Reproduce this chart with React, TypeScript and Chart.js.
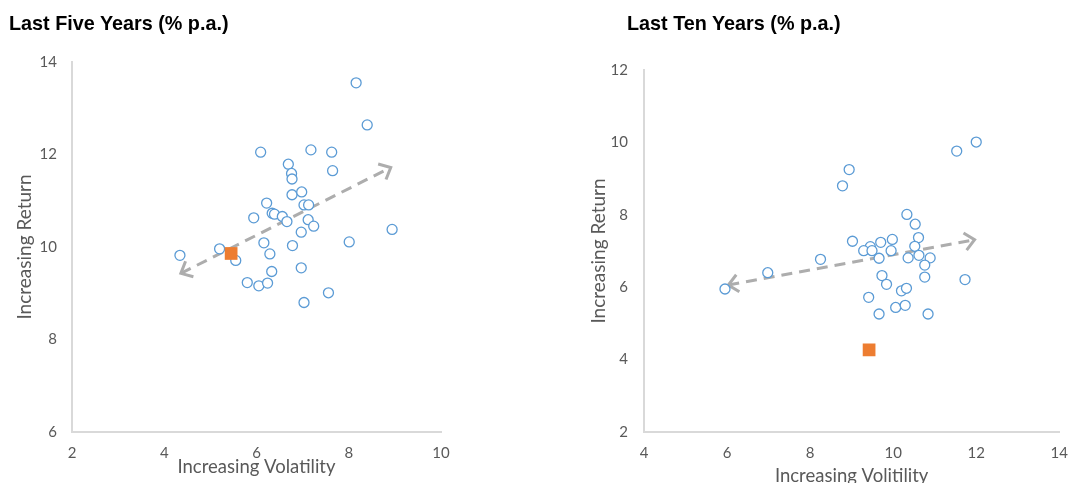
import React, { useEffect, useRef } from 'react';
import { Chart, registerables } from 'chart.js';

Chart.register(...registerables);

// ---- Last Five Years ----
const fiveYearVolatility = [8.16, 8.40, 6.09, 7.18, 7.63, 7.65, 6.69, 6.76, 6.77, 6.77, 6.98, 6.22, 7.03, 7.13, 5.94, 6.34, 6.39, 6.56, 6.66, 7.12, 7.24, 6.97, 8.94, 6.16, 6.78, 8.01, 5.20, 4.34, 6.29, 5.55, 6.33, 6.97, 5.80, 6.05, 6.24, 7.56, 7.03];
const fiveYearReturn = [13.55, 12.64, 12.05, 12.10, 12.05, 11.65, 11.79, 11.59, 11.47, 11.13, 11.19, 10.95, 10.91, 10.91, 10.63, 10.73, 10.71, 10.66, 10.55, 10.59, 10.45, 10.32, 10.38, 10.09, 10.03, 10.11, 9.96, 9.82, 9.85, 9.71, 9.47, 9.55, 9.23, 9.16, 9.22, 9.01, 8.80];
const fiveYearFundVolatility = [5.45];
const fiveYearFundReturn = [9.86];
const fiveYearArrowVolatility = [4.36, 8.91];
const fiveYearArrowReturn = [9.43, 11.72];

// ---- Last Ten Years ----
const tenYearVolatility = [12.00, 11.53, 8.94, 8.78, 10.33, 10.53, 10.61, 9.02, 9.98, 9.70, 10.52, 9.45, 9.29, 9.49, 9.95, 9.66, 10.36, 10.62, 10.89, 10.76, 8.25, 6.98, 5.95, 10.76, 11.73, 9.73, 9.84, 10.20, 10.32, 9.41, 10.06, 10.29, 9.66, 10.84];
const tenYearReturn = [10.01, 9.76, 9.25, 8.80, 8.01, 7.74, 7.37, 7.27, 7.32, 7.24, 7.13, 7.12, 7.01, 7.01, 7.01, 6.80, 6.81, 6.88, 6.81, 6.61, 6.77, 6.40, 5.95, 6.28, 6.21, 6.32, 6.08, 5.90, 5.97, 5.72, 5.44, 5.50, 5.26, 5.26];
const tenYearFundVolatility = [9.42];
const tenYearFundReturn = [4.27];
const tenYearArrowVolatility = [6.03, 11.96];
const tenYearArrowReturn = [6.06, 7.31];

const titleFive = 'Last Five Years (% p.a.)';
const titleTen = 'Last Ten Years (% p.a.)';
const xTitleFive = 'Increasing Volatility';
const xTitleTen = 'Increasing Volitility';
const yTitle = 'Increasing Return';

const BLUE = '#5b9bd5';
const ORANGE = '#ed7d31';
const ARROW = '#adadad';
const TEXT = '#595959';
const AXIS = '#d9d9d9';
const FONT = 'Lato';

const zip = (xs: number[], ys: number[]) => xs.map((x, i) => ({ x, y: ys[i] }));

const arrowHeads = {
  id: 'arrowHeads',
  afterDatasetDraw(chart: any, args: any) {
    const ds = chart.data.datasets[args.index];
    if (!ds || !ds.isArrow) return;
    const pts = args.meta.data;
    if (!pts || pts.length < 2) return;
    const ctx = chart.ctx;
    const L = 13;
    const A = (42 * Math.PI) / 180;
    const head = (tip: any, from: any) => {
      const ang = Math.atan2(tip.y - from.y, tip.x - from.x);
      ctx.save();
      ctx.strokeStyle = ARROW;
      ctx.lineWidth = 3;
      ctx.setLineDash([]);
      ctx.lineCap = 'butt';
      ctx.lineJoin = 'miter';
      ctx.beginPath();
      ctx.moveTo(tip.x - L * Math.cos(ang - A), tip.y - L * Math.sin(ang - A));
      ctx.lineTo(tip.x, tip.y);
      ctx.lineTo(tip.x - L * Math.cos(ang + A), tip.y - L * Math.sin(ang + A));
      ctx.stroke();
      ctx.restore();
    };
    head(pts[0], pts[pts.length - 1]);
    head(pts[pts.length - 1], pts[0]);
  },
};

interface Cfg {
  vol: number[];
  ret: number[];
  fundVol: number[];
  fundRet: number[];
  arrowVol: number[];
  arrowRet: number[];
  xMin: number;
  xMax: number;
  yMin: number;
  yMax: number;
  xTitle: string;
  padding: { top: number; right: number; bottom: number; left: number };
  yWidth: number;
  yTitlePad: number;
  yTickPad: number;
  xTitlePadBottom: number;
}

function build(canvas: HTMLCanvasElement, c: Cfg) {
  return new Chart(canvas, {
    type: 'scatter',
    data: {
      datasets: [
        {
          data: zip(c.fundVol, c.fundRet),
          pointStyle: 'rect',
          pointRadius: 9,
          pointHoverRadius: 9,
          backgroundColor: ORANGE,
          borderColor: ORANGE,
          borderWidth: 0,
          order: 0,
        },
        {
          data: zip(c.vol, c.ret),
          pointStyle: 'circle',
          pointRadius: 5,
          pointHoverRadius: 5,
          backgroundColor: '#ffffff',
          borderColor: BLUE,
          borderWidth: 1.3,
          order: 1,
        },
        {
          data: zip(c.arrowVol, c.arrowRet),
          showLine: true,
          pointRadius: 0,
          pointHoverRadius: 0,
          borderColor: ARROW,
          borderWidth: 3,
          borderDash: [11, 7],
          fill: false,
          order: 2,
          isArrow: true,
        } as any,
      ],
    },
    options: {
      responsive: false,
      animation: false,
      devicePixelRatio: 1,
      layout: { padding: c.padding },
      plugins: { legend: { display: false }, tooltip: { enabled: false }, title: { display: false } },
      scales: {
        x: {
          type: 'linear',
          position: 'bottom',
          min: c.xMin,
          max: c.xMax,
          ticks: { stepSize: 2, padding: 12, color: TEXT, font: { family: FONT, size: 15 } },
          grid: { display: false, drawTicks: false },
          border: { display: true, color: AXIS, width: 2 },
          title: {
            display: true,
            text: c.xTitle,
            color: TEXT,
            font: { family: FONT, size: 18.5 },
            padding: { top: 0, bottom: c.xTitlePadBottom },
          },
          afterFit: (s: any) => {
            s.height = 51;
          },
        },
        y: {
          type: 'linear',
          position: 'left',
          min: c.yMin,
          max: c.yMax,
          ticks: { stepSize: 2, padding: c.yTickPad, color: TEXT, font: { family: FONT, size: 15 } },
          grid: { display: false, drawTicks: false },
          border: { display: true, color: AXIS, width: 2 },
          title: {
            display: true,
            text: yTitle,
            color: TEXT,
            font: { family: FONT, size: 19 },
            padding: { top: c.yTitlePad, bottom: 0 },
          },
          afterFit: (s: any) => {
            s.width = c.yWidth;
          },
        },
      },
    } as any,
    plugins: [arrowHeads],
  });
}

function Panel(props: { cfg: Cfg; left: number; width: number; title: string; titleLeft: number }) {
  const ref = useRef<HTMLCanvasElement>(null);
  useEffect(() => {
    if (!ref.current) return;
    const ch = build(ref.current, props.cfg);
    return () => ch.destroy();
  }, []);
  return (
    <>
      <canvas
        ref={ref}
        width={props.width}
        height={483}
        style={{ position: 'absolute', left: props.left, top: 0, width: props.width, height: 483 }}
      />
      <div
        style={{
          position: 'absolute',
          left: props.titleLeft,
          top: 13,
          font: 'bold 19.8px "Liberation Sans", Arial, sans-serif',
          lineHeight: '20px',
          color: '#000',
          whiteSpace: 'nowrap',
        }}
      >
        {props.title}
      </div>
    </>
  );
}

export default function App() {
  const five: Cfg = {
    vol: fiveYearVolatility,
    ret: fiveYearReturn,
    fundVol: fiveYearFundVolatility,
    fundRet: fiveYearFundReturn,
    arrowVol: fiveYearArrowVolatility,
    arrowRet: fiveYearArrowReturn,
    xMin: 2,
    xMax: 10,
    yMin: 6,
    yMax: 14,
    xTitle: xTitleFive,
    padding: { top: 62, right: 99, bottom: 0, left: 0 },
    yWidth: 72,
    yTitlePad: 13,
    yTickPad: 15,
    xTitlePadBottom: 5,
  };
  const ten: Cfg = {
    vol: tenYearVolatility,
    ret: tenYearReturn,
    fundVol: tenYearFundVolatility,
    fundRet: tenYearFundReturn,
    arrowVol: tenYearArrowVolatility,
    arrowRet: tenYearArrowReturn,
    xMin: 4,
    xMax: 14,
    yMin: 2,
    yMax: 12,
    xTitle: xTitleTen,
    padding: { top: 70, right: 15, bottom: 0, left: 0 },
    yWidth: 104,
    yTitlePad: 47,
    yTickPad: 16,
    xTitlePadBottom: -4,
  };
  return (
    <div style={{ position: 'absolute', left: 0, top: 0, width: 1080, height: 483, background: '#fff', overflow: 'hidden' }}>
      <Panel cfg={five} left={0} width={540} title={titleFive} titleLeft={9} />
      <Panel cfg={ten} left={540} width={540} title={titleTen} titleLeft={627} />
    </div>
  );
}
